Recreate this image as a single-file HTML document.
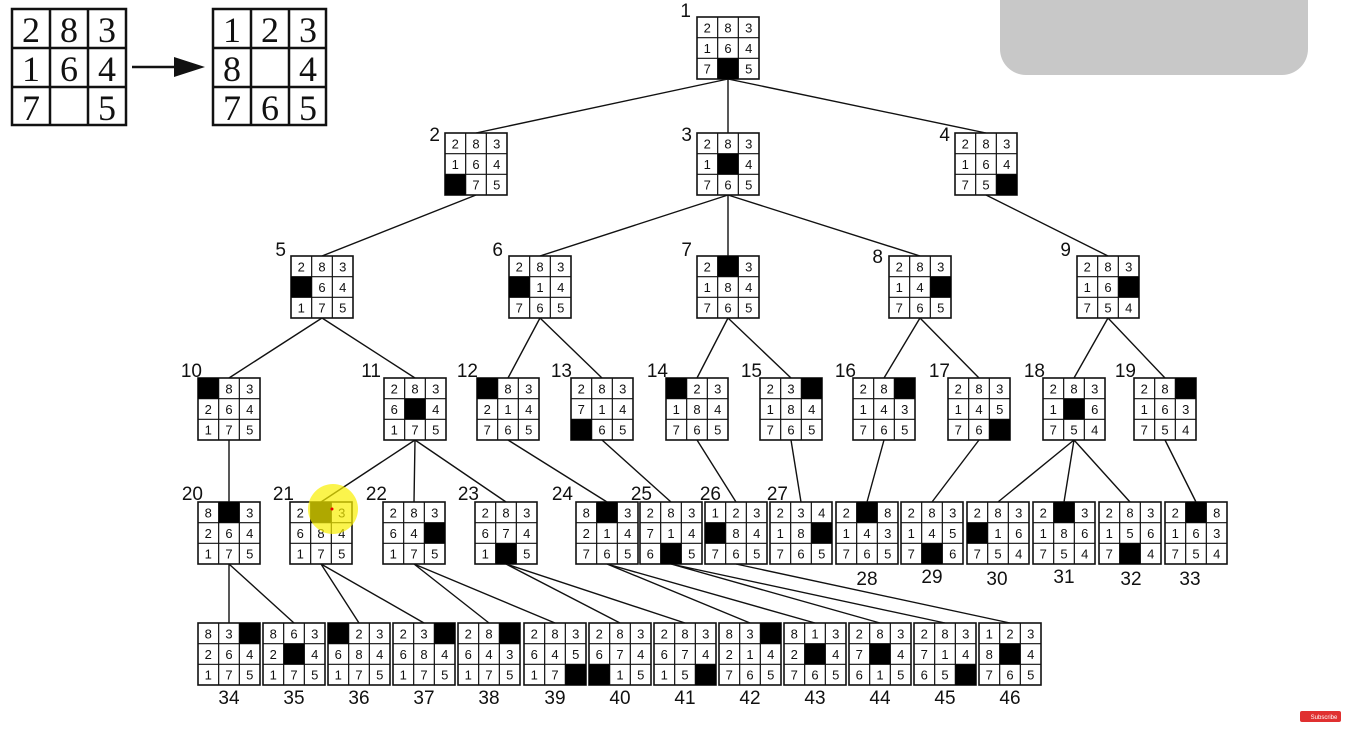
<!DOCTYPE html>
<html><head><meta charset="utf-8"><style>
html,body{margin:0;padding:0;background:#fff;width:1364px;height:754px;overflow:hidden}
svg{display:block}
.n{font-family:"Liberation Sans",sans-serif;font-size:13px;text-anchor:middle;fill:#111}
.l{font-family:"Liberation Sans",sans-serif;font-size:19px;fill:#111}
.big{font-family:"Liberation Serif",serif;font-size:36px;text-anchor:middle;fill:#111}
.e{stroke:#111;stroke-width:1.4;fill:none}
.b{fill:#000}
</style></head><body>
<svg width="1364" height="754" viewBox="0 0 1364 754" xmlns="http://www.w3.org/2000/svg">
<defs>
<g id="g"><rect x="0" y="0" width="62" height="62" fill="#fff" stroke="#111" stroke-width="1.6"/><path d="M20.67 0V62M41.33 0V62M0 20.67H62M0 41.33H62" stroke="#111" stroke-width="1.2"/></g>
</defs>
<rect x="1000" y="-40" width="308" height="115" rx="26" fill="#c8c8c8"/>
<!-- top left -->
<g fill="none" stroke="#111" stroke-width="2.5">
<rect x="12" y="9" width="114" height="116"/><path d="M50 9V125M88 9V125M12 48H126M12 87H126"/>
<rect x="213" y="9" width="113" height="116"/><path d="M251 9V125M289 9V125M213 48H326M213 87H326"/>
<path d="M132 67H180"/></g>
<polygon points="174,57 205,67 174,77" fill="#111"/>
<text class="big"><tspan x="31 69 107" y="42">283</tspan><tspan x="31 69 107" y="81">164</tspan><tspan x="31 107" y="120">75</tspan></text>
<text class="big"><tspan x="232 270 308" y="42">123</tspan><tspan x="232 308" y="81">84</tspan><tspan x="232 270 308" y="120">765</tspan></text>
<!-- edges -->
<path class="e" d="M728 79L476 133M728 79L728 133M728 79L986 133
M476 195L322 256M728 195L540 256M728 195L728 256M728 195L920 256M986 195L1108 256
M322 318L229 378M322 318L415 378M540 318L508 378M540 318L602 378M728 318L697 378M728 318L791 378M920 318L884 378M920 318L979 378M1108 318L1074 378M1108 318L1165 378
M229 440L229 502M415 440L321 502M415 440L414 502M415 440L506 502M508 440L607 502M602 440L671 502M697 440L736 502M791 440L801 502M884 440L867 502M979 440L932 502M1074 440L998 502M1074 440L1064 502M1074 440L1130 502M1165 440L1196 502
M229 564L229 623M229 564L294 623M321 564L359 623M321 564L424 623M414 564L489 623M414 564L555 623M506 564L620 623M506 564L685 623M607 564L750 623M607 564L815 623M671 564L880 623M671 564L945 623M736 564L1010 623"/>
<!-- level 1-2 -->
<g transform="translate(697,17)"><use href="#g"/><rect class="b" x="20.67" y="41.33" width="20.67" height="20.67"/><text class="n"><tspan x="10.3 31 51.7" y="15.5">283</tspan><tspan x="10.3 31 51.7" y="36">164</tspan><tspan x="10.3 51.7" y="56.5">75</tspan></text></g>
<g transform="translate(445,133)"><use href="#g"/><rect class="b" x="0" y="41.33" width="20.67" height="20.67"/><text class="n"><tspan x="10.3 31 51.7" y="15.5">283</tspan><tspan x="10.3 31 51.7" y="36">164</tspan><tspan x="31 51.7" y="56.5">75</tspan></text></g>
<g transform="translate(697,133)"><use href="#g"/><rect class="b" x="20.67" y="20.67" width="20.67" height="20.67"/><text class="n"><tspan x="10.3 31 51.7" y="15.5">283</tspan><tspan x="10.3 51.7" y="36">14</tspan><tspan x="10.3 31 51.7" y="56.5">765</tspan></text></g>
<g transform="translate(955,133)"><use href="#g"/><rect class="b" x="41.33" y="41.33" width="20.67" height="20.67"/><text class="n"><tspan x="10.3 31 51.7" y="15.5">283</tspan><tspan x="10.3 31 51.7" y="36">164</tspan><tspan x="10.3 31" y="56.5">75</tspan></text></g>
<!-- level 3 -->
<g transform="translate(291,256)"><use href="#g"/><rect class="b" x="0" y="20.67" width="20.67" height="20.67"/><text class="n"><tspan x="10.3 31 51.7" y="15.5">283</tspan><tspan x="31 51.7" y="36">64</tspan><tspan x="10.3 31 51.7" y="56.5">175</tspan></text></g>
<g transform="translate(509,256)"><use href="#g"/><rect class="b" x="0" y="20.67" width="20.67" height="20.67"/><text class="n"><tspan x="10.3 31 51.7" y="15.5">283</tspan><tspan x="31 51.7" y="36">14</tspan><tspan x="10.3 31 51.7" y="56.5">765</tspan></text></g>
<g transform="translate(697,256)"><use href="#g"/><rect class="b" x="20.67" y="0" width="20.67" height="20.67"/><text class="n"><tspan x="10.3 51.7" y="15.5">23</tspan><tspan x="10.3 31 51.7" y="36">184</tspan><tspan x="10.3 31 51.7" y="56.5">765</tspan></text></g>
<g transform="translate(889,256)"><use href="#g"/><rect class="b" x="41.33" y="20.67" width="20.67" height="20.67"/><text class="n"><tspan x="10.3 31 51.7" y="15.5">283</tspan><tspan x="10.3 31" y="36">14</tspan><tspan x="10.3 31 51.7" y="56.5">765</tspan></text></g>
<g transform="translate(1077,256)"><use href="#g"/><rect class="b" x="41.33" y="20.67" width="20.67" height="20.67"/><text class="n"><tspan x="10.3 31 51.7" y="15.5">283</tspan><tspan x="10.3 31" y="36">16</tspan><tspan x="10.3 31 51.7" y="56.5">754</tspan></text></g>
<!-- level 4 -->
<g transform="translate(198,378)"><use href="#g"/><rect class="b" x="0" y="0" width="20.67" height="20.67"/><text class="n"><tspan x="31 51.7" y="15.5">83</tspan><tspan x="10.3 31 51.7" y="36">264</tspan><tspan x="10.3 31 51.7" y="56.5">175</tspan></text></g>
<g transform="translate(384,378)"><use href="#g"/><rect class="b" x="20.67" y="20.67" width="20.67" height="20.67"/><text class="n"><tspan x="10.3 31 51.7" y="15.5">283</tspan><tspan x="10.3 51.7" y="36">64</tspan><tspan x="10.3 31 51.7" y="56.5">175</tspan></text></g>
<g transform="translate(477,378)"><use href="#g"/><rect class="b" x="0" y="0" width="20.67" height="20.67"/><text class="n"><tspan x="31 51.7" y="15.5">83</tspan><tspan x="10.3 31 51.7" y="36">214</tspan><tspan x="10.3 31 51.7" y="56.5">765</tspan></text></g>
<g transform="translate(571,378)"><use href="#g"/><rect class="b" x="0" y="41.33" width="20.67" height="20.67"/><text class="n"><tspan x="10.3 31 51.7" y="15.5">283</tspan><tspan x="10.3 31 51.7" y="36">714</tspan><tspan x="31 51.7" y="56.5">65</tspan></text></g>
<g transform="translate(666,378)"><use href="#g"/><rect class="b" x="0" y="0" width="20.67" height="20.67"/><text class="n"><tspan x="31 51.7" y="15.5">23</tspan><tspan x="10.3 31 51.7" y="36">184</tspan><tspan x="10.3 31 51.7" y="56.5">765</tspan></text></g>
<g transform="translate(760,378)"><use href="#g"/><rect class="b" x="41.33" y="0" width="20.67" height="20.67"/><text class="n"><tspan x="10.3 31" y="15.5">23</tspan><tspan x="10.3 31 51.7" y="36">184</tspan><tspan x="10.3 31 51.7" y="56.5">765</tspan></text></g>
<g transform="translate(853,378)"><use href="#g"/><rect class="b" x="41.33" y="0" width="20.67" height="20.67"/><text class="n"><tspan x="10.3 31" y="15.5">28</tspan><tspan x="10.3 31 51.7" y="36">143</tspan><tspan x="10.3 31 51.7" y="56.5">765</tspan></text></g>
<g transform="translate(948,378)"><use href="#g"/><rect class="b" x="41.33" y="41.33" width="20.67" height="20.67"/><text class="n"><tspan x="10.3 31 51.7" y="15.5">283</tspan><tspan x="10.3 31 51.7" y="36">145</tspan><tspan x="10.3 31" y="56.5">76</tspan></text></g>
<g transform="translate(1043,378)"><use href="#g"/><rect class="b" x="20.67" y="20.67" width="20.67" height="20.67"/><text class="n"><tspan x="10.3 31 51.7" y="15.5">283</tspan><tspan x="10.3 51.7" y="36">16</tspan><tspan x="10.3 31 51.7" y="56.5">754</tspan></text></g>
<g transform="translate(1134,378)"><use href="#g"/><rect class="b" x="41.33" y="0" width="20.67" height="20.67"/><text class="n"><tspan x="10.3 31" y="15.5">28</tspan><tspan x="10.3 31 51.7" y="36">163</tspan><tspan x="10.3 31 51.7" y="56.5">754</tspan></text></g>
<!-- level 5 -->
<g transform="translate(198,502)"><use href="#g"/><rect class="b" x="20.67" y="0" width="20.67" height="20.67"/><text class="n"><tspan x="10.3 51.7" y="15.5">83</tspan><tspan x="10.3 31 51.7" y="36">264</tspan><tspan x="10.3 31 51.7" y="56.5">175</tspan></text></g>
<g transform="translate(290,502)"><use href="#g"/><rect class="b" x="20.67" y="0" width="20.67" height="20.67"/><text class="n"><tspan x="10.3 51.7" y="15.5">23</tspan><tspan x="10.3 31 51.7" y="36">684</tspan><tspan x="10.3 31 51.7" y="56.5">175</tspan></text></g>
<g transform="translate(383,502)"><use href="#g"/><rect class="b" x="41.33" y="20.67" width="20.67" height="20.67"/><text class="n"><tspan x="10.3 31 51.7" y="15.5">283</tspan><tspan x="10.3 31" y="36">64</tspan><tspan x="10.3 31 51.7" y="56.5">175</tspan></text></g>
<g transform="translate(475,502)"><use href="#g"/><rect class="b" x="20.67" y="41.33" width="20.67" height="20.67"/><text class="n"><tspan x="10.3 31 51.7" y="15.5">283</tspan><tspan x="10.3 31 51.7" y="36">674</tspan><tspan x="10.3 51.7" y="56.5">15</tspan></text></g>
<g transform="translate(576,502)"><use href="#g"/><rect class="b" x="20.67" y="0" width="20.67" height="20.67"/><text class="n"><tspan x="10.3 51.7" y="15.5">83</tspan><tspan x="10.3 31 51.7" y="36">214</tspan><tspan x="10.3 31 51.7" y="56.5">765</tspan></text></g>
<g transform="translate(640,502)"><use href="#g"/><rect class="b" x="20.67" y="41.33" width="20.67" height="20.67"/><text class="n"><tspan x="10.3 31 51.7" y="15.5">283</tspan><tspan x="10.3 31 51.7" y="36">714</tspan><tspan x="10.3 51.7" y="56.5">65</tspan></text></g>
<g transform="translate(705,502)"><use href="#g"/><rect class="b" x="0" y="20.67" width="20.67" height="20.67"/><text class="n"><tspan x="10.3 31 51.7" y="15.5">123</tspan><tspan x="31 51.7" y="36">84</tspan><tspan x="10.3 31 51.7" y="56.5">765</tspan></text></g>
<g transform="translate(770,502)"><use href="#g"/><rect class="b" x="41.33" y="20.67" width="20.67" height="20.67"/><text class="n"><tspan x="10.3 31 51.7" y="15.5">234</tspan><tspan x="10.3 31" y="36">18</tspan><tspan x="10.3 31 51.7" y="56.5">765</tspan></text></g>
<g transform="translate(836,502)"><use href="#g"/><rect class="b" x="20.67" y="0" width="20.67" height="20.67"/><text class="n"><tspan x="10.3 51.7" y="15.5">28</tspan><tspan x="10.3 31 51.7" y="36">143</tspan><tspan x="10.3 31 51.7" y="56.5">765</tspan></text></g>
<g transform="translate(901,502)"><use href="#g"/><rect class="b" x="20.67" y="41.33" width="20.67" height="20.67"/><text class="n"><tspan x="10.3 31 51.7" y="15.5">283</tspan><tspan x="10.3 31 51.7" y="36">145</tspan><tspan x="10.3 51.7" y="56.5">76</tspan></text></g>
<g transform="translate(967,502)"><use href="#g"/><rect class="b" x="0" y="20.67" width="20.67" height="20.67"/><text class="n"><tspan x="10.3 31 51.7" y="15.5">283</tspan><tspan x="31 51.7" y="36">16</tspan><tspan x="10.3 31 51.7" y="56.5">754</tspan></text></g>
<g transform="translate(1033,502)"><use href="#g"/><rect class="b" x="20.67" y="0" width="20.67" height="20.67"/><text class="n"><tspan x="10.3 51.7" y="15.5">23</tspan><tspan x="10.3 31 51.7" y="36">186</tspan><tspan x="10.3 31 51.7" y="56.5">754</tspan></text></g>
<g transform="translate(1099,502)"><use href="#g"/><rect class="b" x="20.67" y="41.33" width="20.67" height="20.67"/><text class="n"><tspan x="10.3 31 51.7" y="15.5">283</tspan><tspan x="10.3 31 51.7" y="36">156</tspan><tspan x="10.3 51.7" y="56.5">74</tspan></text></g>
<g transform="translate(1165,502)"><use href="#g"/><rect class="b" x="20.67" y="0" width="20.67" height="20.67"/><text class="n"><tspan x="10.3 51.7" y="15.5">28</tspan><tspan x="10.3 31 51.7" y="36">163</tspan><tspan x="10.3 31 51.7" y="56.5">754</tspan></text></g>
<!-- level 6 -->
<g transform="translate(198,623)"><use href="#g"/><rect class="b" x="41.33" y="0" width="20.67" height="20.67"/><text class="n"><tspan x="10.3 31" y="15.5">83</tspan><tspan x="10.3 31 51.7" y="36">264</tspan><tspan x="10.3 31 51.7" y="56.5">175</tspan></text></g>
<g transform="translate(263,623)"><use href="#g"/><rect class="b" x="20.67" y="20.67" width="20.67" height="20.67"/><text class="n"><tspan x="10.3 31 51.7" y="15.5">863</tspan><tspan x="10.3 51.7" y="36">24</tspan><tspan x="10.3 31 51.7" y="56.5">175</tspan></text></g>
<g transform="translate(328,623)"><use href="#g"/><rect class="b" x="0" y="0" width="20.67" height="20.67"/><text class="n"><tspan x="31 51.7" y="15.5">23</tspan><tspan x="10.3 31 51.7" y="36">684</tspan><tspan x="10.3 31 51.7" y="56.5">175</tspan></text></g>
<g transform="translate(393,623)"><use href="#g"/><rect class="b" x="41.33" y="0" width="20.67" height="20.67"/><text class="n"><tspan x="10.3 31" y="15.5">23</tspan><tspan x="10.3 31 51.7" y="36">684</tspan><tspan x="10.3 31 51.7" y="56.5">175</tspan></text></g>
<g transform="translate(458,623)"><use href="#g"/><rect class="b" x="41.33" y="0" width="20.67" height="20.67"/><text class="n"><tspan x="10.3 31" y="15.5">28</tspan><tspan x="10.3 31 51.7" y="36">643</tspan><tspan x="10.3 31 51.7" y="56.5">175</tspan></text></g>
<g transform="translate(524,623)"><use href="#g"/><rect class="b" x="41.33" y="41.33" width="20.67" height="20.67"/><text class="n"><tspan x="10.3 31 51.7" y="15.5">283</tspan><tspan x="10.3 31 51.7" y="36">645</tspan><tspan x="10.3 31" y="56.5">17</tspan></text></g>
<g transform="translate(589,623)"><use href="#g"/><rect class="b" x="0" y="41.33" width="20.67" height="20.67"/><text class="n"><tspan x="10.3 31 51.7" y="15.5">283</tspan><tspan x="10.3 31 51.7" y="36">674</tspan><tspan x="31 51.7" y="56.5">15</tspan></text></g>
<g transform="translate(654,623)"><use href="#g"/><rect class="b" x="41.33" y="41.33" width="20.67" height="20.67"/><text class="n"><tspan x="10.3 31 51.7" y="15.5">283</tspan><tspan x="10.3 31 51.7" y="36">674</tspan><tspan x="10.3 31" y="56.5">15</tspan></text></g>
<g transform="translate(719,623)"><use href="#g"/><rect class="b" x="41.33" y="0" width="20.67" height="20.67"/><text class="n"><tspan x="10.3 31" y="15.5">83</tspan><tspan x="10.3 31 51.7" y="36">214</tspan><tspan x="10.3 31 51.7" y="56.5">765</tspan></text></g>
<g transform="translate(784,623)"><use href="#g"/><rect class="b" x="20.67" y="20.67" width="20.67" height="20.67"/><text class="n"><tspan x="10.3 31 51.7" y="15.5">813</tspan><tspan x="10.3 51.7" y="36">24</tspan><tspan x="10.3 31 51.7" y="56.5">765</tspan></text></g>
<g transform="translate(849,623)"><use href="#g"/><rect class="b" x="20.67" y="20.67" width="20.67" height="20.67"/><text class="n"><tspan x="10.3 31 51.7" y="15.5">283</tspan><tspan x="10.3 51.7" y="36">74</tspan><tspan x="10.3 31 51.7" y="56.5">615</tspan></text></g>
<g transform="translate(914,623)"><use href="#g"/><rect class="b" x="41.33" y="41.33" width="20.67" height="20.67"/><text class="n"><tspan x="10.3 31 51.7" y="15.5">283</tspan><tspan x="10.3 31 51.7" y="36">714</tspan><tspan x="10.3 31" y="56.5">65</tspan></text></g>
<g transform="translate(979,623)"><use href="#g"/><rect class="b" x="20.67" y="20.67" width="20.67" height="20.67"/><text class="n"><tspan x="10.3 31 51.7" y="15.5">123</tspan><tspan x="10.3 51.7" y="36">84</tspan><tspan x="10.3 31 51.7" y="56.5">765</tspan></text></g>
<!-- labels -->
<g class="l" text-anchor="end">
<text x="691" y="17">1</text>
<text x="440" y="141">2</text><text x="692" y="141">3</text><text x="950" y="141">4</text>
<text x="286" y="256">5</text><text x="503" y="256">6</text><text x="692" y="256">7</text><text x="883" y="263">8</text><text x="1071" y="256">9</text>
<text x="202" y="377">10</text><text x="381" y="377">11</text><text x="478" y="377">12</text><text x="572" y="377">13</text><text x="668" y="377">14</text><text x="762" y="377">15</text><text x="856" y="377">16</text><text x="950" y="377">17</text><text x="1045" y="377">18</text><text x="1136" y="377">19</text>
<text x="203" y="500">20</text><text x="294" y="500">21</text><text x="387" y="500">22</text><text x="479" y="500">23</text><text x="573" y="500">24</text><text x="652" y="500">25</text><text x="721" y="500">26</text><text x="788" y="500">27</text>
</g>
<g class="l" text-anchor="middle">
<text x="867" y="585">28</text><text x="932" y="583">29</text><text x="997" y="585">30</text><text x="1064" y="583">31</text><text x="1131" y="585">32</text><text x="1190" y="585">33</text>
<text x="229" y="704">34</text><text x="294" y="704">35</text><text x="359" y="704">36</text><text x="424" y="704">37</text><text x="489" y="704">38</text><text x="555" y="704">39</text><text x="620" y="704">40</text><text x="685" y="704">41</text><text x="750" y="704">42</text><text x="815" y="704">43</text><text x="880" y="704">44</text><text x="945" y="704">45</text><text x="1010" y="704">46</text>
</g>
<circle cx="333" cy="509" r="25" fill="rgba(250,240,0,0.7)"/>
<circle cx="332" cy="509" r="1.5" fill="#e00"/>
<rect x="1300" y="711" width="41" height="11" rx="2" fill="#e03030"/>
<text x="1324" y="719" font-family="Liberation Sans,sans-serif" font-size="6" fill="#fff" text-anchor="middle">Subscribe</text>
</svg>
</body></html>
